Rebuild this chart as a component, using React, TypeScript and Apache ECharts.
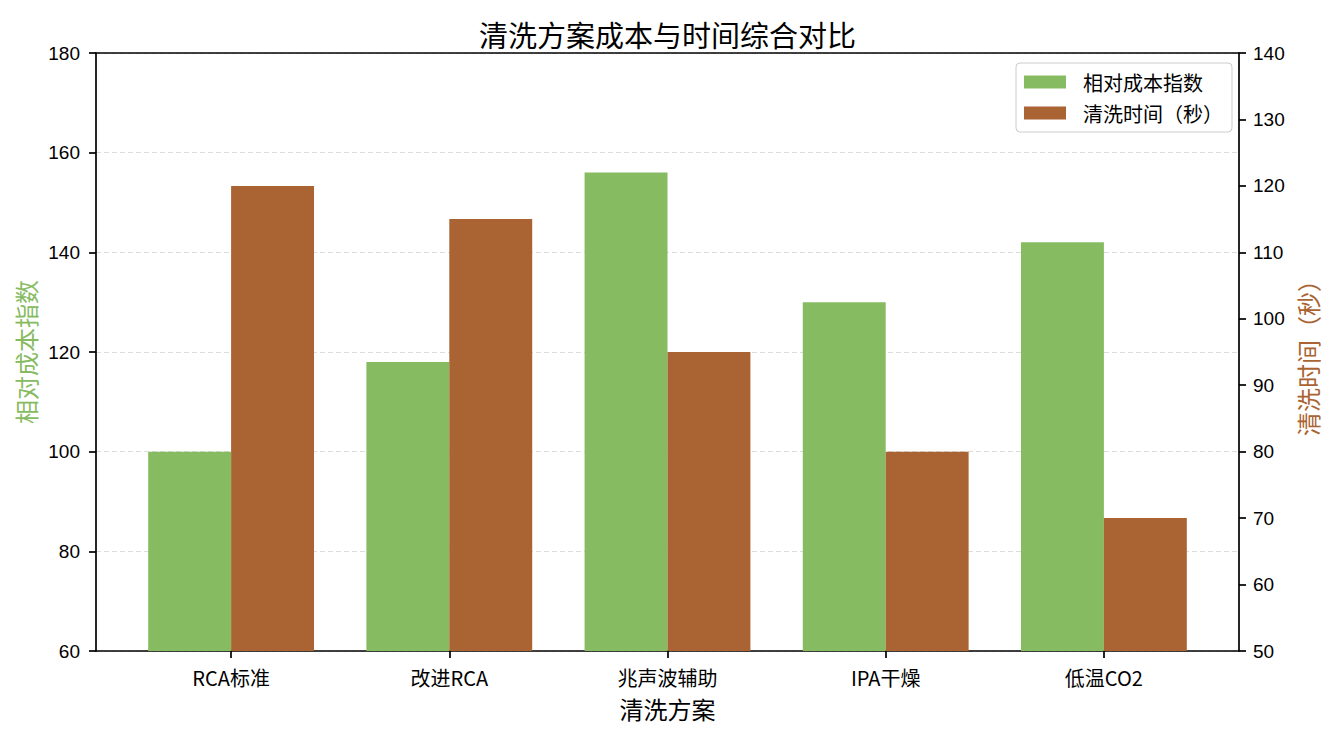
import React, { useEffect, useRef } from "react";
import * as echarts from "echarts";

const categories = ["RCA标准", "改进RCA", "兆声波辅助", "IPA干燥", "低温CO2"];
const costIndex = [100, 118, 156, 130, 142];
const cleanTime = [120, 115, 95, 80, 70];
const costAxis = { min: 60, max: 180, interval: 20 };
const timeAxis = { min: 50, max: 140, interval: 10 };

const GREEN = "#87BB62";
const BROWN = "#AA6332";
const CJK = '"Noto Sans CJK SC", "Noto Sans", sans-serif';
const LATIN = '"Liberation Sans", Arial, sans-serif';

export default function App() {
  const ref = useRef<HTMLDivElement>(null);
  useEffect(() => {
    if (!ref.current) return;
    const chart = echarts.init(ref.current, undefined, { renderer: "svg" });
    const lineStyle = { color: "#000", width: 1.7 };
    const hidden = {
      show: false,
      axisLine: { show: false, onZero: false },
      axisTick: { show: false },
      axisLabel: { show: false },
      splitLine: { show: false },
    };
    const frameX = {
      type: "value",
      gridIndex: 1,
      min: 0,
      max: 1,
      axisLine: { show: true, onZero: false, lineStyle },
      axisTick: { show: false },
      axisLabel: { show: false },
      splitLine: { show: false },
      minorTick: { show: false },
    };
    chart.setOption({
      animation: false,
      backgroundColor: "#fff",
      title: {
        text: "清洗方案成本与时间综合对比",
        left: "center",
        top: 14,
        textStyle: { fontFamily: CJK, fontSize: 29, fontWeight: "normal", color: "#000" },
      },
      legend: {
        orient: "vertical",
        left: 1016,
        top: 63,
        padding: [9, 9, 9, 8],
        itemWidth: 42,
        itemHeight: 13,
        itemGap: 11,
        icon: "rect",
        borderColor: "#cccccc",
        borderWidth: 1,
        borderRadius: 4,
        backgroundColor: "rgba(255,255,255,0.8)",
        textStyle: { fontFamily: CJK, fontSize: 20, lineHeight: 20, color: "#000", padding: [0, 0, 0, 12] },
        data: ["相对成本指数", "清洗时间（秒）"],
      },
      grid: [
        { left: 122, right: 122, top: 53, bottom: 84 },
        { left: 96, right: 96, top: 53, bottom: 84 },
        { left: 122, right: 122, top: 651, bottom: 77 },
      ],
      xAxis: [
        {
          type: "category",
          gridIndex: 0,
          position: "bottom",
          data: categories,
          axisLine: { show: false, onZero: false },
          axisTick: { show: false },
          axisLabel: { fontFamily: CJK, fontSize: 20, color: "#000", margin: 16 },
          name: "清洗方案",
          nameLocation: "middle",
          nameGap: 45,
          nameTextStyle: { fontFamily: CJK, fontSize: 24, color: "#000" },
          splitLine: { show: false },
        },
        { ...frameX, position: "bottom" },
        { ...frameX, position: "top" },
        {
          type: "category",
          gridIndex: 2,
          position: "top",
          data: categories,
          axisLine: { show: false, onZero: false },
          axisTick: { show: true, inside: true, alignWithLabel: true, length: 7, lineStyle },
          axisLabel: { show: false },
          splitLine: { show: false },
          z: 10,
        },
      ],
      yAxis: [
        { type: "value", gridIndex: 0, position: "left", ...costAxis, ...hidden },
        { type: "value", gridIndex: 0, position: "right", ...timeAxis, ...hidden },
        {
          type: "value",
          gridIndex: 1,
          position: "left",
          ...costAxis,
          axisLine: { show: true, onZero: false, lineStyle },
          axisTick: { show: true, inside: false, length: 7, lineStyle },
          minorTick: { show: false },
          axisLabel: { fontFamily: LATIN, fontSize: 19, color: "#000", margin: 16 },
          splitLine: { show: true, lineStyle: { color: "#dddddd", width: 1, type: [5, 3] } },
          name: "相对成本指数",
          nameLocation: "middle",
          nameGap: 55,
          nameTextStyle: { fontFamily: CJK, fontSize: 24, color: GREEN },
        },
        {
          type: "value",
          gridIndex: 1,
          position: "right",
          ...timeAxis,
          axisLine: { show: true, onZero: false, lineStyle },
          axisTick: { show: true, inside: false, length: 7, lineStyle },
          minorTick: { show: false },
          axisLabel: { fontFamily: LATIN, fontSize: 19, color: "#000", margin: 14 },
          splitLine: { show: false },
          name: "清洗时间（秒）",
          nameLocation: "middle",
          nameGap: 55,
          nameTextStyle: { fontFamily: CJK, fontSize: 24, color: BROWN },
        },
        { type: "value", gridIndex: 2, min: 0, max: 1, ...hidden },
      ],
      series: [
        {
          name: "相对成本指数",
          type: "bar",
          xAxisIndex: 0,
          yAxisIndex: 0,
          data: costIndex,
          barWidth: "38%",
          barGap: "0%",
          itemStyle: { color: GREEN },
        },
        {
          name: "清洗时间（秒）",
          type: "bar",
          xAxisIndex: 0,
          yAxisIndex: 1,
          data: cleanTime,
          barWidth: "38%",
          barGap: "0%",
          itemStyle: { color: BROWN },
        },
      ],
    });
    return () => chart.dispose();
  }, []);
  return (
    <div
      ref={ref}
      style={{ position: "fixed", left: 0, top: 0, width: 1335, height: 735, background: "#fff" }}
    />
  );
}
